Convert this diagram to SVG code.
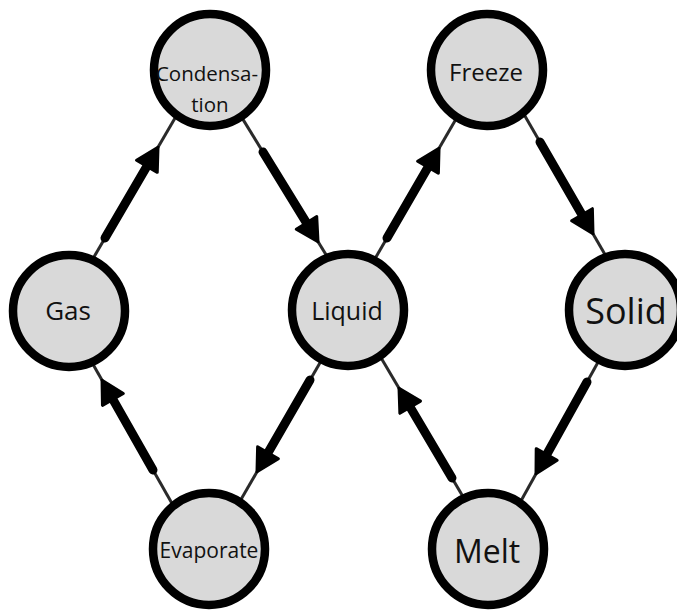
<svg xmlns="http://www.w3.org/2000/svg" width="677" height="610" viewBox="0 0 677 610">
  <defs>
    <marker id="ah" markerUnits="userSpaceOnUse" viewBox="-3 -15 28 30" markerWidth="28" markerHeight="30" refX="0" refY="0" orient="auto">
      <path d="M0,-12 L22,0 L0,12 z" fill="#000" stroke="#000" stroke-width="3" stroke-linejoin="round"/>
    </marker>
    <style>
      .thin { stroke: #2a2a2a; stroke-width: 3; fill: none; }
      .thick { stroke: #000; stroke-width: 9; stroke-linecap: round; fill: none; marker-end: url(#ah); }
      .node circle { fill: #d9d9d9; stroke: #000; stroke-width: 8.5; }
      .node text { font-family: "Open Sans", "Liberation Sans", sans-serif; fill: #111; text-anchor: middle; dominant-baseline: central; }
    </style>
  </defs>
  <rect width="677" height="610" fill="#fff"/>
  <g id="connectors">
    <line class="thin" x1="77.3" y1="285.5" x2="184.7" y2="101.5"/>
    <line class="thick" x1="105" y1="238" x2="146.9" y2="166.3"/>
    <line class="thin" x1="234.2" y1="105.1" x2="345.8" y2="286.9"/>
    <line class="thick" x1="263" y1="152" x2="306.5" y2="222.9"/>
    <line class="thin" x1="359.4" y1="285.6" x2="465.6" y2="102.4"/>
    <line class="thick" x1="387" y1="238" x2="428" y2="167.3"/>
    <line class="thin" x1="512.5" y1="94.4" x2="619.5" y2="279.6"/>
    <line class="thick" x1="540" y1="142" x2="582" y2="214.7"/>
    <line class="thin" x1="613.7" y1="333.9" x2="510.3" y2="520.1"/>
    <line class="thick" x1="587" y1="382" x2="546.7" y2="454.5"/>
    <line class="thin" x1="480" y1="525.4" x2="372" y2="342.6"/>
    <line class="thick" x1="452" y1="478" x2="410.2" y2="407.2"/>
    <line class="thin" x1="337.5" y1="332.4" x2="230.5" y2="517.6"/>
    <line class="thick" x1="310" y1="380" x2="268" y2="452.7"/>
    <line class="thin" x1="180.2" y1="517.9" x2="75.8" y2="334.1"/>
    <line class="thick" x1="153" y1="470" x2="112.9" y2="399.4"/>
  </g>
  <g id="condensation" class="node">
    <circle cx="210" cy="70" r="56"/>
    <text x="207" y="73" font-size="20.5">Condensa-</text>
    <text x="210" y="104" font-size="20.5">tion</text>
  </g>
  <g id="gas" class="node">
    <circle cx="69" cy="311" r="56"/>
    <text x="68" y="310" font-size="26">Gas</text>
  </g>
  <g id="liquid" class="node">
    <circle cx="348" cy="310" r="56"/>
    <text x="347" y="310" font-size="25">Liquid</text>
  </g>
  <g id="freeze" class="node">
    <circle cx="487" cy="70" r="56"/>
    <text x="486" y="71" font-size="24">Freeze</text>
  </g>
  <g id="solid" class="node">
    <circle cx="625" cy="310" r="56"/>
    <text x="626" y="310" font-size="36">Solid</text>
  </g>
  <g id="evaporate" class="node">
    <circle cx="209" cy="549" r="56"/>
    <text x="209" y="550" font-size="21">Evaporate</text>
  </g>
  <g id="melt" class="node">
    <circle cx="488" cy="549" r="56"/>
    <text x="487" y="550" font-size="32">Melt</text>
  </g>
</svg>
